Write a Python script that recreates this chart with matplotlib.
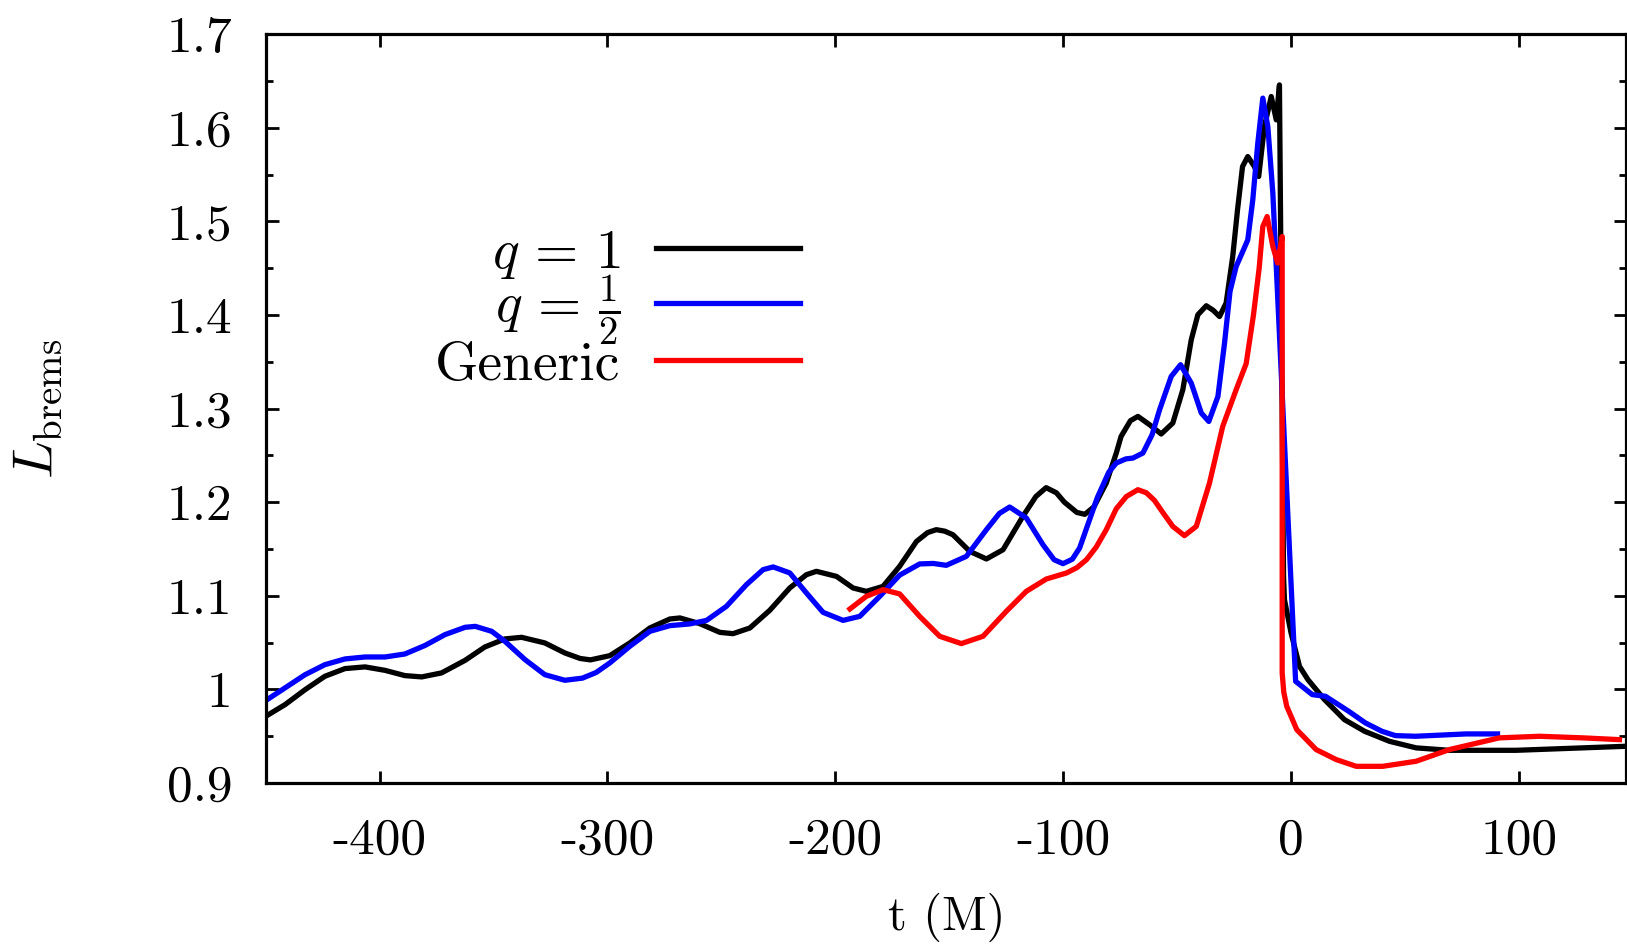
import numpy as np
import matplotlib
matplotlib.use('Agg')
import matplotlib.pyplot as plt
from matplotlib.ticker import MultipleLocator, FuncFormatter

plt.rcParams['font.family'] = 'serif'
plt.rcParams['font.serif'] = ['cmr10']
plt.rcParams['mathtext.fontset'] = 'cm'
plt.rcParams['axes.unicode_minus'] = False

# q = 1 (black)
t_q1 = [-450, -441.5, -432.7, -424, -415.2, -406.4, -397.6, -388.9, -381.5, -372.8, -362.5,
        -353.8, -345, -337.7, -327.5, -318.7, -312, -307.5, -299, -290.2, -281.4, -272.6,
        -268.2, -259.5, -250.7, -244.9, -237.5, -228.8, -220, -212.7, -208.3, -199.5, -192.2,
        -186.4, -179.1, -171.8, -164.4, -159.5, -155.7, -152, -148.4, -141, -133.7, -126.4,
        -117.7, -112, -107.5, -103, -99.5, -94, -90.5, -86.5, -81.1, -76.7, -74.6, -70.5, -67.2,
        -62.1, -57, -51.9, -47.5, -43.8, -40.9, -37.2, -34.2, -31.4, -28.5, -25.6, -23.5, -21.3,
        -19, -16.1, -14.2, -11.7, -8.7, -6.5, -5.1, -3.3, -2.9, 0, 3.7, 7.4, 14.7, 23.4, 32.3,
        43.2, 54.9, 69.5, 98.7, 127.9, 147]
L_q1 = [0.9712, 0.9837, 0.9997, 1.014, 1.0222, 1.024, 1.0203, 1.0147, 1.0133, 1.0176, 1.031,
        1.0453, 1.0539, 1.0556, 1.0496, 1.0389, 1.0330, 1.0315, 1.036, 1.0496, 1.0656, 1.0752,
        1.0763, 1.0702, 1.0609, 1.0595, 1.0656, 1.0844, 1.1083, 1.1225, 1.1261, 1.1207, 1.1083,
        1.1047, 1.110, 1.1314, 1.158, 1.1675, 1.1706, 1.1690, 1.1652, 1.1474, 1.1393, 1.1492,
        1.1848, 1.2060, 1.2155, 1.2100, 1.2000, 1.1890, 1.1870, 1.1950, 1.2204, 1.2525, 1.2702,
        1.2870, 1.2916, 1.2827, 1.2728, 1.2845, 1.3201, 1.3735, 1.4002, 1.4098, 1.4050, 1.3983,
        1.4127, 1.4624, 1.5123, 1.5585, 1.5692, 1.5585, 1.5479, 1.6012, 1.6333, 1.6084, 1.6457,
        1.1204, 1.0958, 1.0603, 1.0246, 1.0104, 0.989, 0.9677, 0.9552, 0.9445, 0.9375, 0.9349,
        0.9349, 0.9375, 0.9392]

# q = 1/2 (blue)
t_q12 = [-450, -441.5, -432.7, -424, -415.2, -406.4, -397.6, -388.9, -380, -371.3, -362.5,
         -358, -350.8, -345, -336.2, -327.5, -318.7, -311, -305, -299, -290.2, -281.4, -272.6,
         -263.9, -256.5, -247.8, -239, -231.7, -227.3, -220, -212.7, -205.4, -196.6, -189.3,
         -180.5, -171.8, -163, -157, -151.3, -142.5, -133.7, -128, -123.5, -116.2, -108.9,
         -104, -100.1, -96, -92.8, -85, -80, -76.7, -72.5, -69.4, -65, -61, -57.7, -52.6,
         -48.5, -43.8, -39.4, -36.1, -32.1, -29.2, -26.8, -24.1, -21.2, -19, -16.8, -14.6,
         -12.4, -10.2, -8, 2.0, 9.3, 15.1, 25.3, 32.6, 39.9, 45.8, 54.6, 76.8, 90.6]
L_q12 = [0.988, 1.0016, 1.0157, 1.0264, 1.0325, 1.0346, 1.0346, 1.0378, 1.047, 1.0585, 1.0663,
         1.0673, 1.062, 1.0513, 1.0318, 1.0157, 1.0097, 1.0120, 1.0180, 1.0282, 1.046, 1.062,
         1.0681, 1.0699, 1.0737, 1.0887, 1.1119, 1.1279, 1.1308, 1.1244, 1.103, 1.0823, 1.0737,
         1.078, 1.0994, 1.122, 1.134, 1.1345, 1.1325, 1.1421, 1.1706, 1.1880, 1.1948, 1.1831,
         1.1546, 1.1385, 1.1343, 1.1390, 1.151, 1.205, 1.2320, 1.2418, 1.2462, 1.2471, 1.2525,
         1.2720, 1.2987, 1.3343, 1.3468, 1.3272, 1.2952, 1.2862, 1.3129, 1.3699, 1.425, 1.4517,
         1.4678, 1.4802, 1.523, 1.5835, 1.6316, 1.6012, 1.5301, 1.0086, 0.9944, 0.9926, 0.9766,
         0.9642, 0.9552, 0.9506, 0.9499, 0.9524, 0.9524]

# generic (red)
t_gen = [-193.6, -186.4, -179.1, -171.8, -163, -154.2, -144.7, -135.2, -125, -116.2, -107.4,
         -98.6, -94, -89.8, -85.5, -81.1, -76.7, -72.3, -67.2, -63.5, -60, -56, -51.9, -46.8,
         -41.6, -35.8, -30, -24.1, -19.7, -16.5, -14, -12.4, -10.5, -8, -5.9, -3.9, -3.9, -3.2,
         -1.9, 2.5, 11, 19.8, 28.6, 40.2, 54.9, 69.5, 91.4, 109, 128, 144.1]
L_gen = [1.0859, 1.0994, 1.1065, 1.102, 1.078, 1.0567, 1.0489, 1.0567, 1.0833, 1.1047, 1.1179,
         1.1243, 1.1300, 1.1385, 1.1520, 1.1706, 1.1930, 1.2060, 1.2133, 1.2100, 1.2020, 1.1880,
         1.1741, 1.1642, 1.1741, 1.2204, 1.2809, 1.3201, 1.3480, 1.4000, 1.4500, 1.4945, 1.5051,
         1.4731, 1.4554, 1.4838, 1.0176, 0.9970, 0.9819, 0.957, 0.9357, 0.925, 0.9178, 0.9178,
         0.9232, 0.9357, 0.9482, 0.9499, 0.9482, 0.9463]

fig = plt.figure(figsize=(16.27, 9.47), dpi=100)
ax = fig.add_axes([0.1633, 0.1732, 0.8361, 0.7908])

lw = 3.8
ax.plot(t_q1, L_q1, color='black', lw=lw, label=r'$q\,=\,1$', solid_joinstyle='round')
ax.plot(t_q12, L_q12, color='#0000ff', lw=lw, label=r'$q\,=\,\frac{1}{2}$', solid_joinstyle='round')
ax.plot(t_gen, L_gen, color='#ff0000', lw=lw, label='Generic', solid_joinstyle='round')

ax.set_xlim(-450, 147)
ax.set_ylim(0.9, 1.7)
ax.xaxis.set_major_locator(MultipleLocator(100))
ax.yaxis.set_major_locator(MultipleLocator(0.1))
ax.yaxis.set_minor_locator(MultipleLocator(0.05))
ax.yaxis.set_major_formatter(FuncFormatter(lambda v, p: f'{v:g}'))
ax.xaxis.set_major_formatter(FuncFormatter(lambda v, p: f'{v:g}'))
ax.tick_params(which='both', direction='in', top=True, right=True, width=2)
ax.tick_params(which='major', length=9)
ax.tick_params(which='minor', length=5)
ax.tick_params(axis='y', labelsize=37, pad=24)
ax.tick_params(axis='x', labelsize=37, pad=25)
for s in ax.spines.values():
    s.set_linewidth(2.3)

ax.set_xlabel('t (M)', fontsize=35)
ax.set_ylabel(r'$L_{\rm brems}$', fontsize=40)
ax.xaxis.set_label_coords(0.501, -0.146)
ax.yaxis.set_label_coords(-0.148, 0.5)

leg = ax.legend(loc='center right', bbox_to_anchor=(0.3928, 0.632), frameon=False,
                markerfirst=False, fontsize=40, handlelength=2.6, handletextpad=0.63,
                labelspacing=-0.13, borderpad=0, borderaxespad=0)
for txt in leg.get_texts():
    txt.set_ha('right')

fig.savefig('out.png', dpi=100)
